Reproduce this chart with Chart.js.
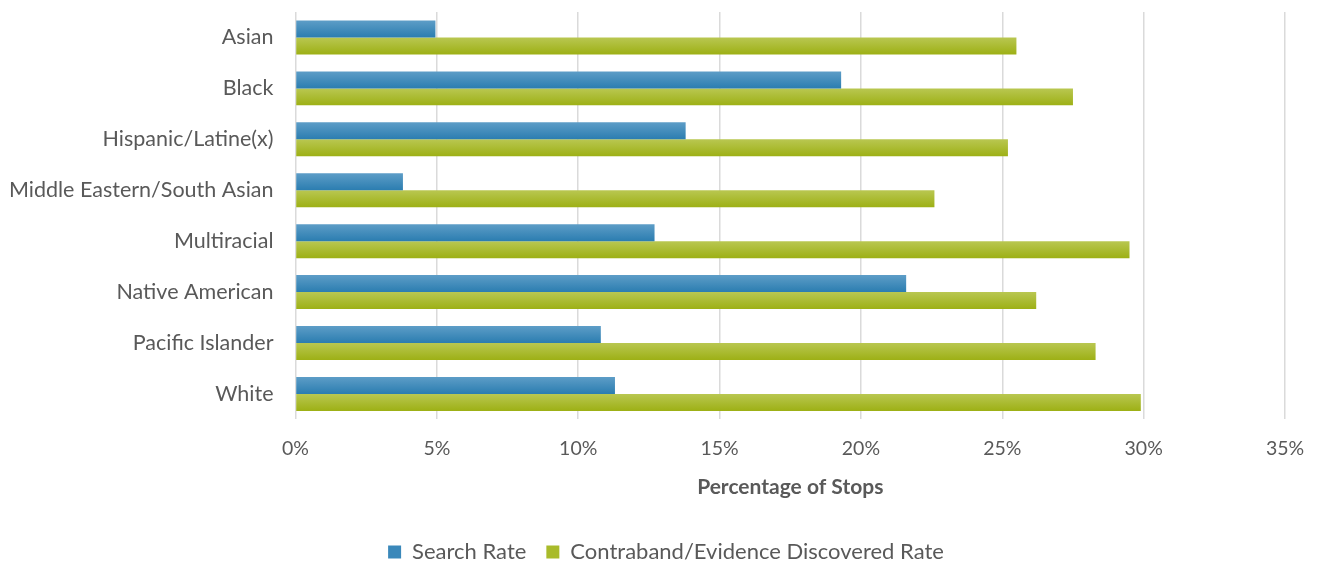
<!DOCTYPE html>
<html>
<head>
<meta charset="utf-8">
<script src="https://cdn.jsdelivr.net/npm/chart.js@4"></script>
<style>
  body { margin: 0; background: #fff; }
  #wrap { width: 1319px; height: 561px; }
</style>
</head>
<body>
<div id="wrap"><canvas id="barChart"></canvas></div>
<script>
// data
var groups = ["Asian", "Black", "Hispanic/Latine(x)", "Middle Eastern/South Asian",
  "Multiracial", "Native American", "Pacific Islander", "White"];
var searchRate = [4.95, 19.3, 13.8, 3.8, 12.7, 21.6, 10.8, 11.3];
var contrabandRate = [25.5, 27.5, 25.2, 22.6, 29.5, 26.2, 28.3, 29.9];
var xTicks = [0, 5, 10, 15, 20, 25, 30, 35];

var textColor = '#595959';
var FONT = 'Lato, "Open Sans", sans-serif';

// vertical gradient per bar, built from the y scale position
function barGradient(top, bottom, which) {
  return function (context) {
    var chart = context.chart;
    var ys = chart.scales.y;
    if (!chart.chartArea || !ys || context.dataIndex === undefined) return bottom;
    var c = ys.getPixelForValue(context.dataIndex);
    var band = Math.abs(ys.getPixelForValue(1) - ys.getPixelForValue(0));
    var h = band / 3;
    var y0 = which === 0 ? c - h : c;
    var g = chart.ctx.createLinearGradient(0, y0, 0, y0 + h);
    g.addColorStop(0, top);
    g.addColorStop(1, bottom);
    return g;
  };
}

// legend sits a bit right of the canvas centre in the original
var legendShift = {
  id: 'legendShift',
  afterLayout: function (chart) {
    if (!chart.legend) return;
    chart.legend.left += 30;
    chart.legend.right += 30;
  }
};

var ctxB = document.getElementById("barChart").getContext('2d');
var myBarChart = new Chart(ctxB, {
  type: 'bar',
  data: {
    labels: groups,
    datasets: [{
      label: 'Search Rate',
      data: searchRate,
      backgroundColor: barGradient('#5d9dc7', '#2b7db0', 0),
      legendColor: '#3a88ba'
    }, {
      label: 'Contraband/Evidence Discovered Rate',
      data: contrabandRate,
      backgroundColor: barGradient('#b9c751', '#9db015', 1),
      legendColor: '#a9bb2a'
    }]
  },
  plugins: [legendShift],
  options: {
    indexAxis: 'y',
    responsive: true,
    maintainAspectRatio: false,
    animation: false,
    layout: { padding: { top: 12, right: 34, left: -13, bottom: -12 } },
    datasets: {
      bar: { barPercentage: 1, categoryPercentage: 0.667, borderWidth: 0 }
    },
    scales: {
      x: {
        min: 0, max: 35,
        afterBuildTicks: function (axis) {
          axis.ticks = xTicks.map(function (v) { return { value: v }; });
        },
        afterFit: function (axis) {
          axis.paddingLeft = 0;
          axis.paddingRight = 0;
        },
        ticks: {
          color: textColor,
          font: { family: FONT, size: 19.5 },
          padding: 18,
          callback: function (v) { return v + '%'; }
        },
        grid: { color: '#dadada', lineWidth: 1.5, drawTicks: false },
        border: { display: false },
        title: {
          display: true,
          text: 'Percentage of Stops',
          color: textColor,
          font: { family: FONT, size: 21, weight: 'bold' },
          padding: { top: -4, bottom: 21 }
        }
      },
      y: {
        afterFit: function (axis) {
          axis.paddingTop = 0;
          axis.paddingBottom = 0;
        },
        ticks: {
          color: textColor,
          font: { family: FONT, size: 21.5 },
          padding: 22
        },
        grid: { display: false, drawTicks: false },
        border: { display: false }
      }
    },
    plugins: {
      tooltip: { enabled: false },
      legend: {
        position: 'bottom',
        labels: {
          color: textColor,
          font: { family: FONT, size: 22 },
          boxWidth: 13,
          boxHeight: 13,
          padding: 20,
          generateLabels: function (chart) {
            return chart.data.datasets.map(function (ds, i) {
              return {
                text: ds.label,
                fillStyle: ds.legendColor,
                strokeStyle: ds.legendColor,
                lineWidth: 0,
                fontColor: textColor,
                datasetIndex: i
              };
            });
          }
        }
      }
    }
  }
});
</script>
</body>
</html>
